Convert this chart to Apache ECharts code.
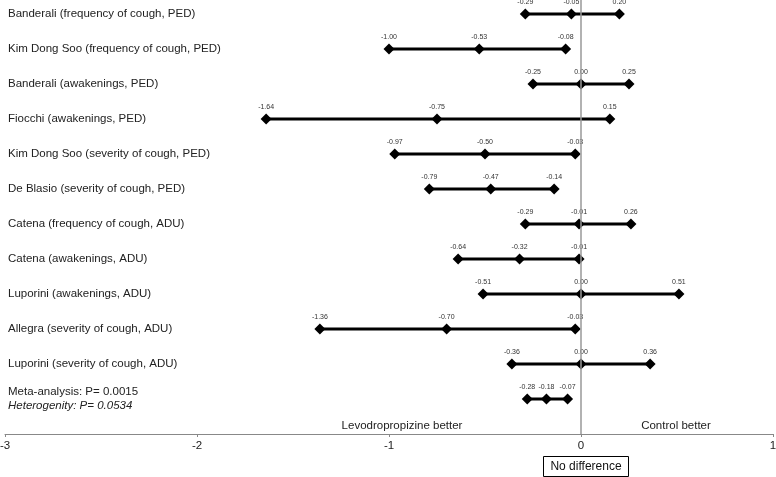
<!DOCTYPE html>
<html><head><meta charset="utf-8">
<script src="https://cdn.jsdelivr.net/npm/echarts@6/dist/echarts.min.js"></script>
<style>html,body{margin:0;padding:0;background:#fff}#c{width:776px;height:477px}</style>
</head><body><div id="c"></div>
<script>
const studies = [
  'Banderali (frequency of cough, PED)',
  'Kim Dong Soo (frequency of cough, PED)',
  'Banderali (awakenings, PED)',
  'Fiocchi (awakenings, PED)',
  'Kim Dong Soo (severity of cough, PED)',
  'De Blasio (severity of cough, PED)',
  'Catena (frequency of cough, ADU)',
  'Catena (awakenings, ADU)',
  'Luporini (awakenings, ADU)',
  'Allegra (severity of cough, ADU)',
  'Luporini (severity of cough, ADU)',
  'Meta-analysis: P= 0.0015'
];
const metaNote = 'Heterogenity: P= 0.0534';
const lower =    [-0.29, -1.00, -0.25, -1.64, -0.97, -0.79, -0.29, -0.64, -0.51, -1.36, -0.36, -0.28];
const estimate = [-0.05, -0.53,  0.00, -0.75, -0.50, -0.47, -0.01, -0.32,  0.00, -0.70,  0.00, -0.18];
const upper =    [ 0.20, -0.08,  0.25,  0.15, -0.03, -0.14,  0.26, -0.01,  0.51, -0.03,  0.36, -0.07];
const xMin = -3, xMax = 1;
const leftNote = 'Levodropropizine better';
const rightNote = 'Control better';
const zeroNote = 'No difference';

const FONT = '"Liberation Sans", Arial, Helvetica, sans-serif';
const rows = studies.map((s, i) => i + 1);
const chart = echarts.init(document.getElementById('c'));
const series = studies.map((s, i) => ({
  type: 'line',
  data: [[lower[i], i + 1], [estimate[i], i + 1], [upper[i], i + 1]],
  symbol: 'diamond',
  symbolSize: 11,
  showSymbol: true,
  lineStyle: { color: '#000', width: 3 },
  itemStyle: { color: '#000' },
  label: {
    show: true, position: 'top', distance: 3,
    fontSize: 7, color: '#333', fontFamily: FONT,
    formatter: p => p.value[0].toFixed(2)
  },
  emphasis: { disabled: true },
  animation: false,
  z: 3
}));
series[0].markLine = {
  silent: true, symbol: 'none',
  lineStyle: { color: '#999', width: 1.5, type: 'solid' },
  label: { show: false },
  data: [{ xAxis: 0 }],
  animation: false
};
chart.setOption({
  backgroundColor: '#fff',
  animation: false,
  grid: { left: 5, right: 3, top: 0, bottom: 43, containLabel: false, outerBoundsMode: 'none' },
  xAxis: {
    type: 'value', min: xMin, max: xMax, interval: 1, position: 'bottom',
    axisLine: { onZero: false, lineStyle: { color: '#888', width: 1 } },
    axisTick: { show: true, length: 3, lineStyle: { color: '#888' } },
    splitLine: { show: false },
    axisLabel: { fontSize: 11.5, color: '#222', margin: 6, fontFamily: FONT }
  },
  yAxis: {
    type: 'value', inverse: true, min: 0.6, max: 13,
    axisLine: { show: false }, axisTick: { show: false }, splitLine: { show: false },
    axisLabel: {
      inside: true, margin: 3, fontSize: 11.5, color: '#222', fontFamily: FONT,
      customValues: rows,
      showMinLabel: true, showMaxLabel: true,
      formatter: v => {
        const k = Math.round(v);
        if (k < 1 || k > studies.length) return '';
        if (k === studies.length) return '{a|' + studies[k - 1] + '}\n{b|' + metaNote + '}';
        return studies[k - 1];
      },
      rich: {
        a: { fontSize: 11.5, color: '#222', fontFamily: FONT, lineHeight: 14 },
        b: { fontSize: 11.5, color: '#222', fontFamily: FONT, fontStyle: 'italic', lineHeight: 14 }
      }
    }
  },
  graphic: [
    { type: 'text', x: 402, y: 426, style: { text: leftNote, fontSize: 11.5, fontFamily: FONT, fill: '#222', textAlign: 'center', textVerticalAlign: 'middle' } },
    { type: 'text', x: 676, y: 426, style: { text: rightNote, fontSize: 11.5, fontFamily: FONT, fill: '#222', textAlign: 'center', textVerticalAlign: 'middle' } },
    { type: 'rect', shape: { x: 543.5, y: 456.5, width: 85, height: 20 }, style: { fill: '#fff', stroke: '#000', lineWidth: 1 } },
    { type: 'text', x: 586, y: 466.5, style: { text: zeroNote, fontSize: 12, fontFamily: FONT, fill: '#111', textAlign: 'center', textVerticalAlign: 'middle' } }
  ],
  series: series
});
</script></body></html>
